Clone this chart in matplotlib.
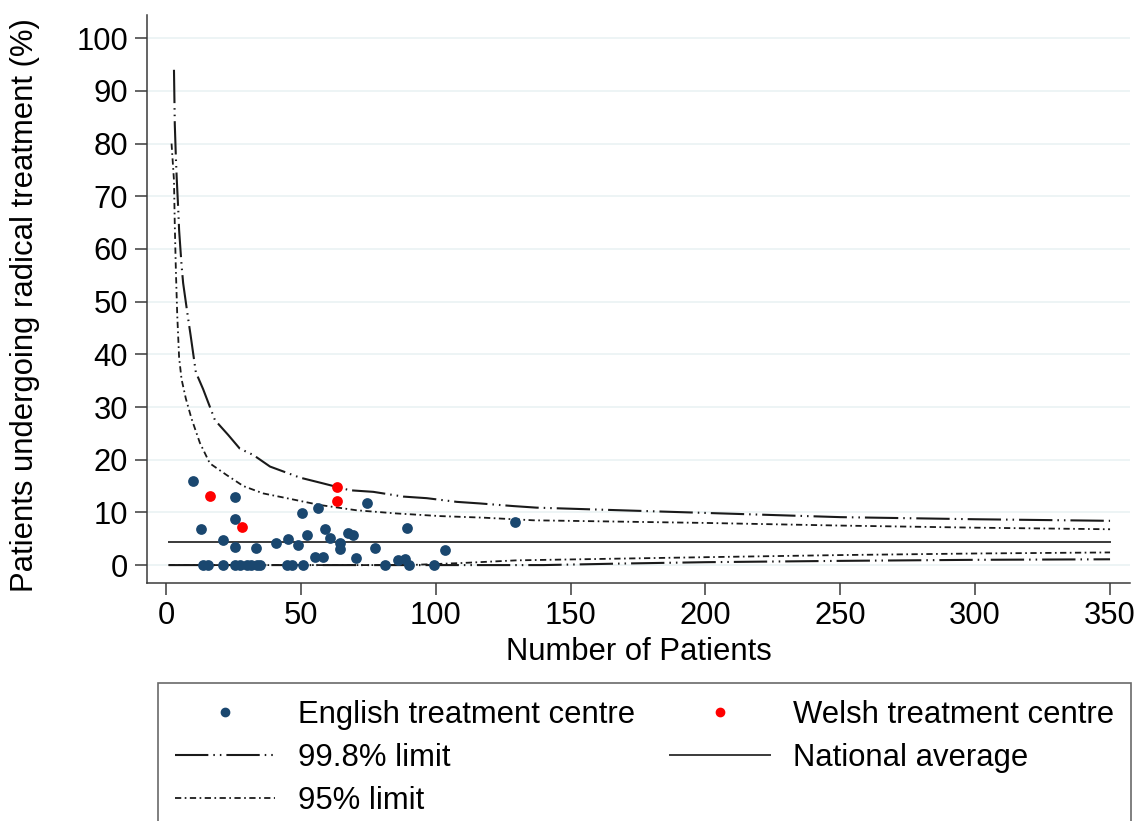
import matplotlib
matplotlib.use("Agg")
import matplotlib.pyplot as plt
from matplotlib.lines import Line2D

plt.rcParams['font.family'] = ['Liberation Sans', 'DejaVu Sans']
plt.rcParams['lines.scale_dashes'] = False

# Treatment centres: number of patients and % undergoing radical treatment
english_n = [10.1, 13.2, 25.6, 25.6, 21.2, 25.6, 33.4, 41, 45.1, 49, 52.2, 50.3, 56.5, 59,
             60.8, 64.5, 64.5, 67.6, 69.2, 55.2, 58.3, 70.4, 74.4, 77.5, 86.1, 88.6, 89.2,
             103.4, 129.4,
             13.8, 15.7, 21.2, 25.6, 27.4, 29.9, 31.7, 33.6, 34.9, 44.8, 46.6, 50.9, 81.2,
             90.2, 99.4]
english_pct = [15.9, 6.9, 12.9, 8.7, 4.8, 3.4, 3.2, 4.1, 5.0, 3.8, 5.8, 9.9, 10.8, 6.8,
               5.2, 4.2, 3.0, 6.0, 5.7, 1.6, 1.6, 1.3, 11.7, 3.3, 1.0, 1.1, 7.1,
               2.9, 8.2,
               0, 0, 0, 0, 0, 0, 0, 0, 0, 0, 0, 0, 0,
               0, 0]
welsh_n = [16.3, 28.3, 63.3, 63.3]
welsh_pct = [13.2, 7.3, 14.9, 12.2]

# Funnel limits
national_avg = 4.4
avg_n = [1, 350]

up998_n = [3, 3.3, 3.7, 4.0, 4.6, 4.9, 5.8, 6.4, 8.3, 9.2, 11.1, 13.8, 18.2, 23.1, 27.4,
           32.4, 38.6, 49.7, 58.3, 68.2, 76.9, 88, 96.7, 107.8, 116.4, 128.8, 137.4, 200,
           250, 300, 350]
up998_pct = [94, 83.7, 77.4, 73.6, 67.3, 63.6, 57, 53.5, 46.6, 43.5, 36.6, 33.4, 27.5,
             24.7, 22.1, 20.9, 18.7, 16.6, 15.5, 14.2, 13.9, 13.0, 12.7, 12.0, 11.7, 11.2,
             10.9, 9.9, 9.1, 8.7, 8.4]
lo998_n = [1, 140, 170, 200, 250, 300, 350]
lo998_pct = [0, 0, 0.3, 0.55, 0.8, 1.0, 1.1]

up95_n = [2.1, 3.0, 3.3, 3.7, 4.2, 4.9, 5.8, 7.4, 9.5, 12.6, 16.3, 22.5, 28.7, 36.1, 44.8,
          57.1, 70.7, 85.5, 101.6, 117.7, 136.2, 200, 250, 300, 350]
up95_pct = [80, 73, 64.5, 56, 47.6, 39.4, 35.3, 31.6, 27.8, 23.2, 19.3, 17.1, 15.0, 13.6,
            12.7, 11.4, 10.4, 9.8, 9.3, 9.0, 8.5, 8.0, 7.5, 7.1, 6.8]
lo95_n = [1, 90, 110, 130, 200, 250, 300, 350]
lo95_pct = [0, 0, 0.4, 0.9, 1.5, 1.9, 2.2, 2.4]

x_ticks = [0, 50, 100, 150, 200, 250, 300, 350]
y_ticks = [0, 10, 20, 30, 40, 50, 60, 70, 80, 90, 100]

navy = '#1a476f'
dash998 = (0, (24, 3.6, 1.1, 3.6, 1.1, 3.6))
dash95 = (0, (4.5, 2.5, 1.2, 2.5))
fs = 22.3

fig = plt.figure(figsize=(11.38, 8.21), dpi=100)
ax = fig.add_axes([147 / 1138, 238 / 821, 983 / 1138, 568 / 821])

# limits
ax.plot(up998_n, up998_pct, color='#1a1a1a', lw=1.5, linestyle=dash998)
ax.plot(lo998_n, lo998_pct, color='#1a1a1a', lw=1.5, linestyle=dash998)
ax.plot(up95_n, up95_pct, color='#1a1a1a', lw=1.3, linestyle=dash95)
ax.plot(lo95_n, lo95_pct, color='#1a1a1a', lw=1.3, linestyle=dash95)
ax.plot(avg_n, [national_avg, national_avg], color='#3a3a3a', lw=1.4)

# centres
ax.scatter(english_n, english_pct, s=60, color=navy, zorder=3, linewidths=0)
ax.scatter(welsh_n, welsh_pct, s=60, color='red', zorder=3, linewidths=0)

ax.set_xlim(-7, 357.4)
ax.set_ylim(-3.4, 104.4)
ax.set_xticks(x_ticks)
ax.set_yticks(y_ticks)
ax.grid(axis='y', color='#eaf2f3', lw=1.2)
ax.set_axisbelow(True)

for side in ['top', 'right']:
    ax.spines[side].set_visible(False)
for side in ['left', 'bottom']:
    ax.spines[side].set_color('#3a3a3a')
    ax.spines[side].set_linewidth(1.1)
ax.tick_params(axis='both', direction='out', length=8.6, width=1.1, color='#3a3a3a',
               labelsize=fs)
ax.tick_params(axis='y', pad=5)
ax.tick_params(axis='x', pad=4)

ax.set_xlabel("Number of Patients", fontsize=fs)
ax.set_ylabel("Patients undergoing radical treatment (%)", fontsize=fs)
ax.xaxis.set_label_coords(0.5, -0.122)
ax.xaxis.label.set_va('center')
ax.yaxis.set_label_coords(-0.124, 0.49)
ax.yaxis.label.set_va('center')

# legend, 2 columns, bottom clipped by the figure edge like the original
handles = [
    Line2D([], [], marker='o', linestyle='none', color=navy, markersize=6),
    Line2D([], [], color='#1a1a1a', lw=1.5, linestyle=dash998),
    Line2D([], [], color='#1a1a1a', lw=1.3, linestyle=dash95),
    Line2D([], [], marker='o', linestyle='none', color='red', markersize=6),
    Line2D([], [], color='#3a3a3a', lw=1.4),
]
labels = ["English treatment centre", "99.8% limit", "95% limit",
          "Welsh treatment centre", "National average"]
leg = fig.legend(handles, labels, ncol=2, loc='upper left',
                 bbox_to_anchor=(158 / 1138, 0, 973 / 1138, 138 / 821), mode='expand',
                 borderaxespad=0, fontsize=fs, frameon=True, fancybox=False,
                 handlelength=3.23, handletextpad=0.74, labelspacing=0.42, borderpad=0.55)
leg.get_frame().set_edgecolor('#444444')
leg.get_frame().set_linewidth(1.2)

plt.savefig("out.png", dpi=100)
